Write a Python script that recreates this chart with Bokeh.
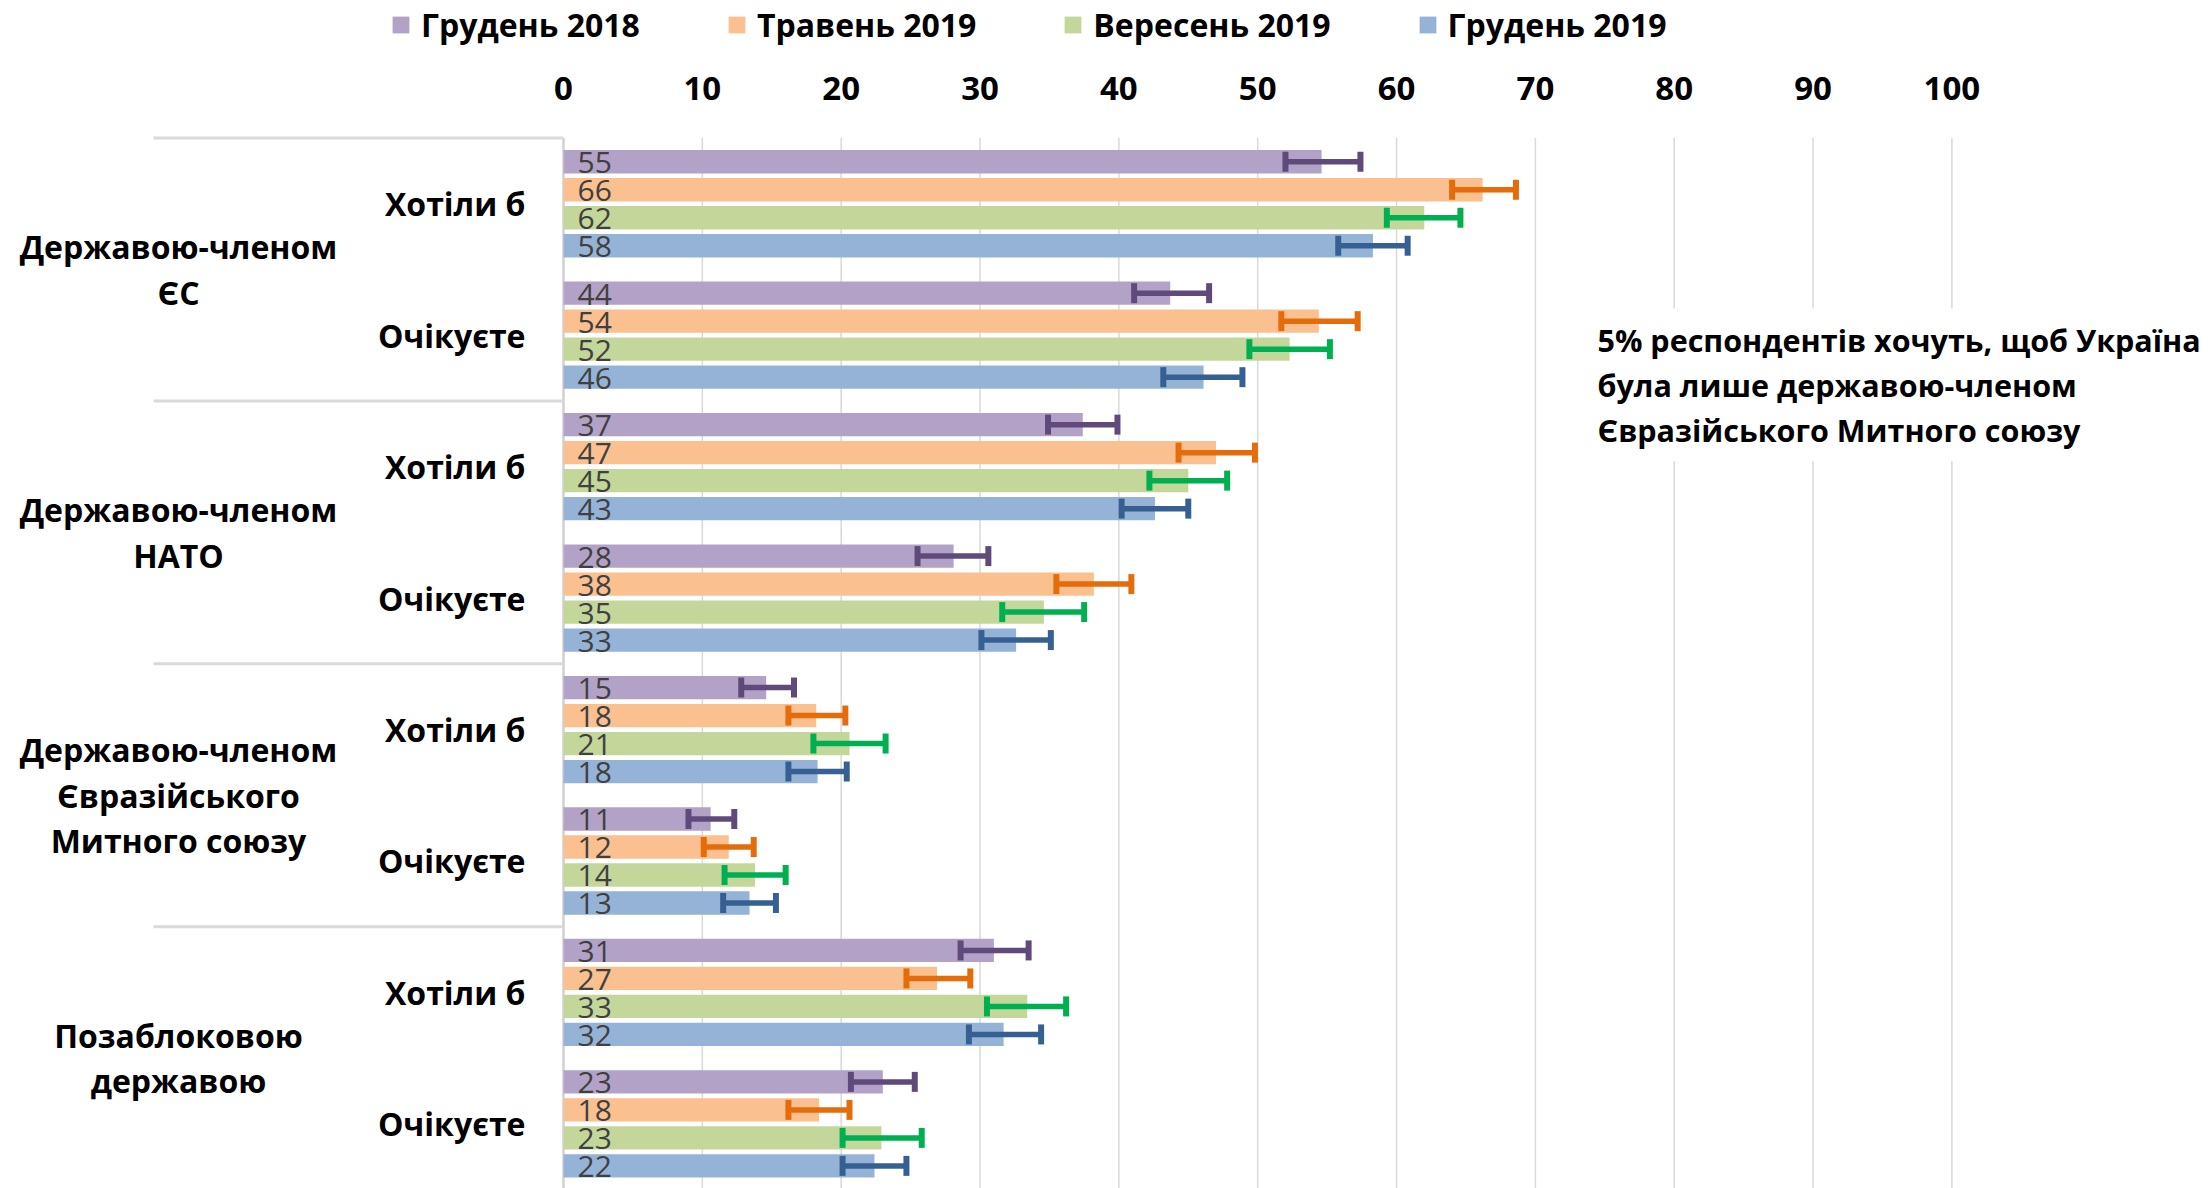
from bokeh.plotting import figure
from bokeh.models import Range1d, Whisker, TeeHead, ColumnDataSource, Legend, LegendItem, Label
from bokeh.core.properties import value
from bokeh.embed import file_html
from bokeh.resources import INLINE

# ---------------- data ----------------
categories = ["Державою-членом\nЄС", "Державою-членом\nНАТО",
              "Державою-членом\nЄвразійського\nМитного союзу", "Позаблоковою\nдержавою"]
subcategories = ["Хотіли б", "Очікуєте"]
series_names = ["Грудень 2018", "Травень 2019", "Вересень 2019", "Грудень 2019"]

# one value per sub-row: EU want, EU expect, NATO want, NATO expect, EAEU want, EAEU expect, neutral want, neutral expect
dec2018 = [54.6, 43.7, 37.4, 28.1, 14.6, 10.6, 31.0, 23.0]
may2019 = [66.2, 54.4, 47.0, 38.2, 18.2, 11.9, 26.9, 18.4]
sep2019 = [62.0, 52.3, 45.0, 34.6, 20.6, 13.8, 33.4, 22.9]
dec2019 = [58.3, 46.1, 42.6, 32.6, 18.3, 13.4, 31.7, 22.4]

dec2018_low = [52.0, 41.1, 34.9, 25.5, 12.8, 9.0, 28.6, 20.7]
dec2018_high = [57.4, 46.5, 39.9, 30.6, 16.6, 12.3, 33.5, 25.3]
may2019_low = [64.0, 51.7, 44.3, 35.5, 16.2, 10.1, 24.7, 16.2]
may2019_high = [68.6, 57.2, 49.8, 40.9, 20.3, 13.7, 29.3, 20.6]
sep2019_low = [59.3, 49.4, 42.2, 31.6, 18.0, 11.6, 30.5, 20.1]
sep2019_high = [64.6, 55.2, 47.8, 37.5, 23.2, 16.0, 36.2, 25.8]
dec2019_low = [55.8, 43.2, 40.2, 30.1, 16.2, 11.5, 29.2, 20.1]
dec2019_high = [60.8, 48.9, 45.0, 35.1, 20.4, 15.3, 34.4, 24.7]

ticks = [0, 10, 20, 30, 40, 50, 60, 70, 80, 90, 100]
tick_labels = ["0", "10", "20", "30", "40", "50", "60", "70", "80", "90", "100"]

note = "5% респондентів хочуть, щоб Україна\nбула лише державою-членом\nЄвразійського Митного союзу"

# ---------------- styles / layout ----------------
bar_colors = ["#B3A2C7", "#FAC090", "#C4D79B", "#95B3D7"]
err_colors = ["#604A7B", "#E46C0A", "#00B050", "#376092"]
FONT = "Open Sans"

W, H = 2210, 1188
PX0, PXU = 137.5, 131.45     # y pixel of plot top, px per sub-row
X0, XPU = 563.0, 13.884      # x pixel of value 0, px per unit


def yu(px):
    return (px - PX0) / PXU


def xu(px):
    return (px - X0) / XPU


BAR_STEP = 28.0 / PXU
BAR_H = 23.3 / PXU

p = figure(width=W, height=H, output_backend="svg", toolbar_location=None,
           x_axis_location=None, y_axis_location=None,
           x_range=Range1d(xu(0), xu(W)),
           y_range=Range1d(yu(H), yu(0)),
           min_border=0, outline_line_color=None)
p.xgrid.visible = False
p.ygrid.visible = False
p.background_fill_color = "white"

n_rows = len(dec2018)
rows = list(range(n_rows))

# grid lines (10..100) and value axis line
p.segment(x0=ticks[1:], x1=ticks[1:], y0=yu(PX0), y1=yu(1200),
          line_color="#d9d9d9", line_width=1.5)
p.segment(x0=[ticks[0]], x1=[ticks[0]], y0=yu(PX0), y1=yu(1200),
          line_color="#d0d0d0", line_width=2.5)

# category separators
sep_y = [2 * c for c in range(len(categories))]
p.segment(x0=xu(153), x1=0, y0=sep_y, y1=sep_y, line_color="#d9d9d9", line_width=3)

series_vals = [dec2018, may2019, sep2019, dec2019]
series_low = [dec2018_low, may2019_low, sep2019_low, dec2019_low]
series_high = [dec2018_high, may2019_high, sep2019_high, dec2019_high]

renderers = []
for j, (vals, lo, hi) in enumerate(zip(series_vals, series_low, series_high)):
    ys = [k + 0.5 + (j - 1.5) * BAR_STEP for k in rows]
    src = ColumnDataSource(dict(y=ys, v=vals, lo=lo, hi=hi,
                                lab=[f"{v:.0f}" for v in vals]))
    r = p.hbar(y="y", left=0, right="v", height=BAR_H, source=src,
               fill_color=bar_colors[j], line_color=None)
    renderers.append(r)
    p.text(x=0, y="y", text="lab", source=src, x_offset=14, y_offset=1,
           text_font=value(FONT), text_font_size="30px", text_color="#404040",
           text_baseline="middle", text_align="left")
    w = Whisker(source=src, base="y", lower="lo", upper="hi", dimension="width",
                line_color=err_colors[j], line_width=5.5, level="annotation",
                upper_head=TeeHead(size=20, line_color=err_colors[j], line_width=6),
                lower_head=TeeHead(size=20, line_color=err_colors[j], line_width=6))
    p.add_layout(w)

# tick labels on top
p.text(x=ticks, y=[yu(88)] * len(ticks), text=tick_labels,
       text_font=value(FONT), text_font_style="bold", text_font_size="33px",
       text_color="black", text_align="center", text_baseline="middle")

# sub-category labels
p.text(x=[xu(525)] * n_rows, y=[k + 0.5 for k in rows],
       text=[subcategories[k % 2] for k in rows],
       text_font=value(FONT), text_font_style="bold", text_font_size="32px",
       text_color="black", text_align="right", text_baseline="middle")

# category labels
p.text(x=[xu(178)] * len(categories), y=[2 * c + 1 for c in range(len(categories))],
       text=categories, text_font=value(FONT), text_font_style="bold",
       text_font_size="32px", text_color="black", text_align="center",
       text_baseline="middle", text_line_height=1.06)

# annotation (white box hides grid lines behind it)
p.add_layout(Label(x=xu(1587), y=yu(308), text=note, text_font=FONT,
                   text_font_style="bold", text_font_size="30.5px", text_color="black",
                   text_align="left", text_baseline="top", text_line_height=1.08,
                   background_fill_color="white", padding=10))

legend = Legend(items=[LegendItem(label=series_names[j], renderers=[renderers[j]])
                       for j in range(len(series_names))],
                orientation="horizontal", location=(390, H - 46),
                glyph_width=21, glyph_height=21, label_standoff=10, spacing=86,
                padding=0, margin=0, border_line_color=None, background_fill_alpha=0,
                label_text_font=FONT, label_text_font_style="bold",
                label_text_font_size="32px", label_text_color="black")
p.add_layout(legend)

open("out.html", "w").write(file_html(p, INLINE))
